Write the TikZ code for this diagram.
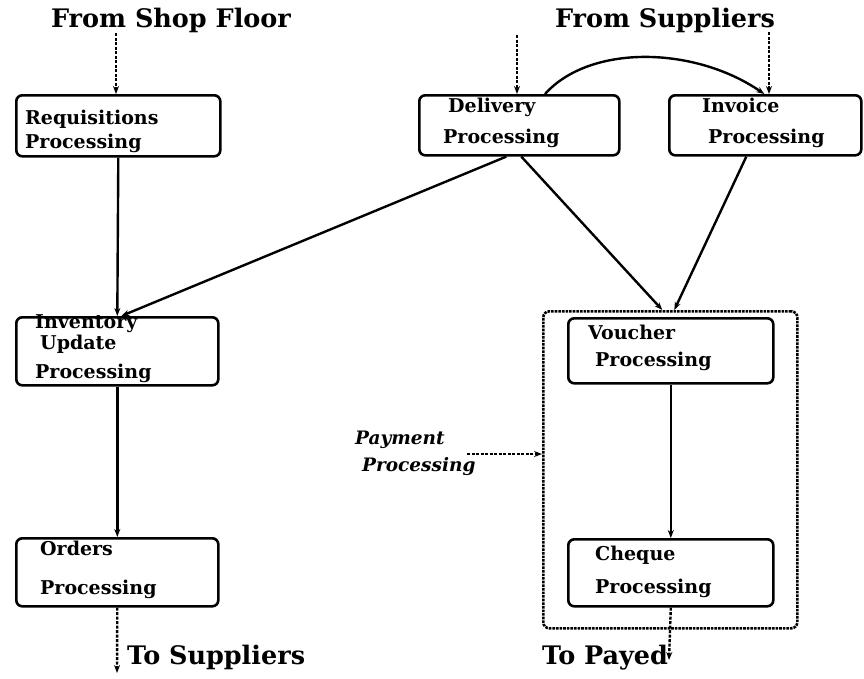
\documentclass[tikz,border=0pt]{standalone}
\usepackage{fontspec}
\setmainfont{DejaVu Serif}
\usetikzlibrary{arrows.meta,calc}
\begin{document}
\begin{tikzpicture}[x=1pt,y=-1pt,
  box/.style={draw,line width=2.6pt,rounded corners=6pt,anchor=north west,inner sep=0pt},
  grp/.style={draw,line width=2.6pt,densely dotted,rounded corners=6pt,anchor=north west,inner sep=0pt},
  arr/.style={line width=2.4pt,-{Stealth[length=8pt,width=6pt]}},
  darr/.style={line width=2.4pt,dash pattern=on 3pt off 1.5pt,-{Stealth[length=8pt,width=6pt]}},
  ttl/.style={font=\fontsize{25.5}{30}\selectfont\bfseries,inner sep=0pt},
  lbl/.style={font=\fontsize{19}{22}\selectfont\bfseries,inner sep=0pt,anchor=mid west},
  ilbl/.style={font=\fontsize{18.5}{22}\selectfont\bfseries\itshape,inner sep=0pt,anchor=mid west}]
\useasboundingbox (0,0) rectangle (864,678);
% boxes
\node[box,minimum width=204pt,minimum height=61pt] (req) at (15,94) {};
\node[box,minimum width=200pt,minimum height=60pt] (del) at (418,94) {};
\node[box,minimum width=192pt,minimum height=60pt] (inv) at (668,94) {};
\node[box,minimum width=202pt,minimum height=68pt] (invu) at (15,316) {};
\node[box,minimum width=202pt,minimum height=68pt] (ord) at (15,537) {};
\node[grp,minimum width=254pt,minimum height=317pt] (pay) at (542,310) {};
\node[box,minimum width=205pt,minimum height=65pt] (vou) at (567,317) {};
\node[box,minimum width=205pt,minimum height=67pt] (chq) at (567,538) {};
% box labels
\node[lbl] (reqa) at (25,122) {Requisitions};
\node[lbl] (reqb) at (25,146) {Processing};
\node[lbl] (dela) at (448,110) {Delivery};
\node[lbl] (delb) at (443,141) {Processing};
\node[lbl] (inva) at (702,110) {Invoice};
\node[lbl] (invb) at (708,141) {Processing};
\node[lbl] (invua) at (35,326) {Inventory};
\node[lbl] (invub) at (40,347) {Update};
\node[lbl] (invuc) at (35,376) {Processing};
\node[lbl] (orda) at (40,553) {Orders};
\node[lbl] (ordb) at (40,592) {Processing};
\node[lbl] (voua) at (588,337) {Voucher};
\node[lbl] (voub) at (595,364) {Processing};
\node[lbl] (chqa) at (595,558) {Cheque};
\node[lbl] (chqb) at (595,591) {Processing};
\node[ilbl] (ppa) at (355,442) {Payment};
\node[ilbl] (ppb) at (362,469) {Processing};
% titles
\node[ttl] (shop) at (171,20) {From Shop Floor};
\node[ttl] (sup) at (665,20) {From Suppliers};
\node[ttl,anchor=mid west] (tosup) at (127,662) {To Suppliers};
\node[ttl,anchor=mid west] (topay) at (542,662) {To Payed};
% free ends
\coordinate (s1) at (116,33);
\coordinate (s2) at (517,35);
\coordinate (s3) at (769,32);
\coordinate (e1) at (117,673);
\coordinate (e2) at (669,660);
\coordinate (pp) at (467,454);
% connectors
\draw[darr] (s1) -- (s1 |- req.north);
\draw[darr] (s2) -- (s2 |- del.north);
\draw[darr] (s3) -- (s3 |- inv.north);
\draw[arr] ([xshift=127pt]del.north west) .. controls +(45,-50) and +(-70,-48) .. ([xshift=-1pt]inv.north);
\draw[arr] (req.south) -- (invu.north);
\draw[arr] ([xshift=-13pt]del.south) -- ([xshift=4pt]invu.north);
\draw[arr] ([xshift=2pt]del.south) -- ([xshift=-8pt]pay.north);
\draw[arr] ([xshift=-19pt]inv.south) -- ([xshift=4pt]pay.north);
\draw[arr] (invu.south) -- (ord.north);
\draw[arr] (vou.south) -- (chq.north);
\draw[darr] (ord.south) -- (e1);
\draw[darr] (chq.south) -- (e2);
\draw[darr] (pp) -- (pp -| pay.west);
\end{tikzpicture}
\end{document}
